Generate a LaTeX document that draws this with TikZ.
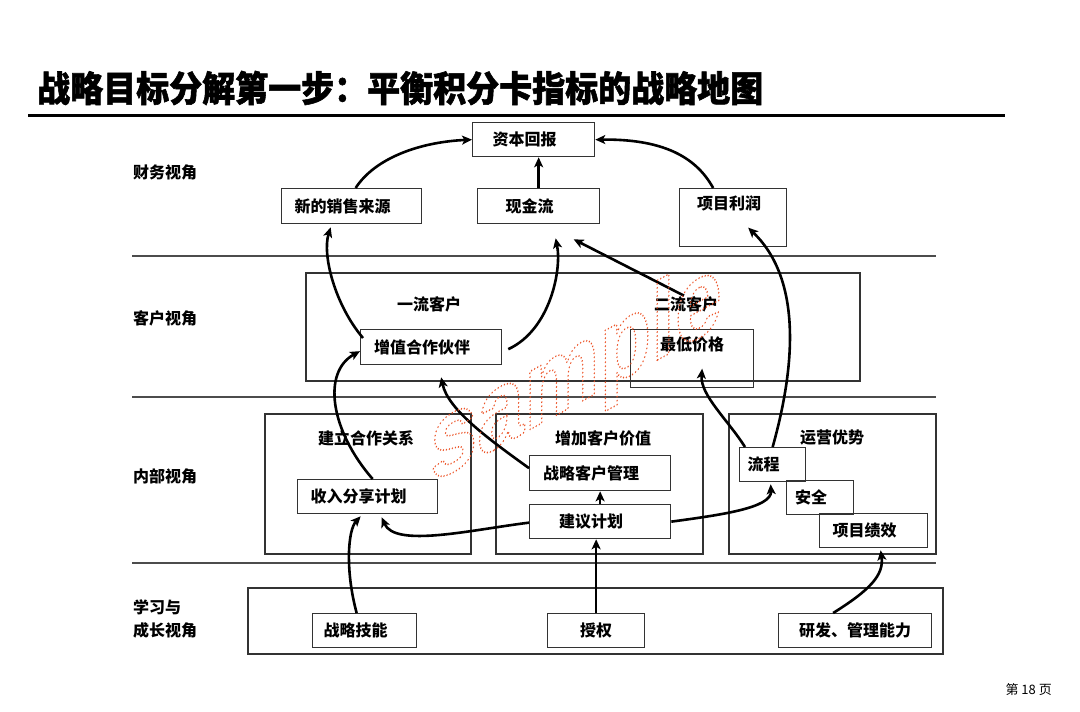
\documentclass[tikz,border=0pt]{standalone}
\usepackage{fontspec}
\setmainfont{Noto Sans CJK SC}
\newfontfamily\titlefont{Noto Sans CJK SC}[BoldFeatures={FakeBold=1.6}]
\newfontfamily\wmfont{Liberation Sans}
\usetikzlibrary{arrows.meta,calc}
\definecolor{wmred}{RGB}{236,84,40}

\begin{document}
\begin{tikzpicture}[x=1pt,y=-1pt,
  bias/.initial=-18pt,
  box/.style={draw=black!80, line width=1.3pt, inner sep=0pt, anchor=north west, font=\bfseries\fontsize{16}{16}\selectfont, execute at begin node={\hspace*{\pgfkeysvalueof{/tikz/bias}}}},
  nobias/.style={bias=0pt},
  head/.style={font=\bfseries\fontsize{16}{16}\selectfont},
  lane/.style={anchor=west, align=left, inner sep=0pt, font=\bfseries\fontsize{16}{23}\selectfont},
  area/.style={draw=black!80, line width=1.3pt},
  sep/.style={draw=black!70, line width=1.1pt},
  link/.style={line width=2.6pt, -{Stealth[length=10pt,width=9pt,inset=2.5pt]}}]
\useasboundingbox (0,0) rectangle (1080,712);

% title
\node[anchor=west, inner sep=0pt, yscale=1.08, font=\titlefont\bfseries\fontsize{33}{33}\selectfont] (title) at (37,88) {战略目标分解第一步：平衡积分卡指标的战略地图};
\draw[line width=3pt] (28,115) -- (1005,115);

% perspectives
\foreach \y in {256,397,563} \draw[sep] (132,\y) -- (936,\y);
\node[lane] (cw) at (133,172) {财务视角};
\node[lane] (kh) at (133,318) {客户视角};
\node[lane] (nb) at (133,476) {内部视角};
\node[lane] (xx) at (133,619) {学习与\\成长视角};

% group frames
\draw[area] (306,273) rectangle (860,381);
\draw[area] (265,414) rectangle (471,554);
\draw[area] (496,414) rectangle (703,554);
\draw[area] (729,414) rectangle (936,554);
\draw[area] (248,588) rectangle (943,654);
\node[head] (ylkh) at (429,304) {一流客户};
\node[head] (elkh) at (686,304) {二流客户};
\node[head] (hzgx) at (366,438) {建立合作关系};
\node[head] (zjjz) at (603,438) {增加客户价值};
\node[head] (yyys) at (832,438) {运营优势};

% financial
\node[box, minimum width=122, minimum height=34] (zbhb) at (472,122) {资本回报};
\node[box, minimum width=140, minimum height=35] (xdxs) at (281,188) {新的销售来源};
\node[box, minimum width=122, minimum height=35] (xjl) at (477,188) {现金流};
\node[box, nobias, minimum width=107, minimum height=58, label={[head, anchor=north, xshift=-4pt, yshift=-4pt]north:项目利润}] (xmlr) at (679,188) {};
% customer
\node[box, minimum width=141, minimum height=35] (zzhb) at (360,329) {增值合作伙伴};
\node[box, nobias, minimum width=123, minimum height=58, label={[head, anchor=north, yshift=-4pt]north:最低价格}] (zdjg) at (630,329) {};
% internal
\node[box, minimum width=140, minimum height=34] (srfx) at (297,479) {收入分享计划};
\node[box, minimum width=141, minimum height=35] (zlkh) at (529,455) {战略客户管理};
\node[box, minimum width=141, minimum height=34] (jyjh) at (529,504) {建议计划};
\node[box, minimum width=66, minimum height=34] (lc) at (739,447) {流程};
\node[box, minimum width=67, minimum height=34] (aq) at (786,480) {安全};
\node[box, minimum width=108, minimum height=34] (xmjx) at (819,513) {项目绩效};
% learning
\node[box, minimum width=104, minimum height=34] (zljn) at (312,613) {战略技能};
\node[box, nobias, minimum width=97, minimum height=34] (sq) at (547,613) {授权};
\node[box, nobias, minimum width=153, minimum height=34] (yfgl) at (778,613) {研发、管理能力};

% links
\draw[link] ([xshift=4pt]xdxs.north) .. controls (375,158) and (420,142) .. (zbhb.west);
\draw[link] (xjl.north) -- (xjl.north |- zbhb.south);
\draw[link] ([xshift=-20pt]xmlr.north) .. controls (695,155) and (660,139) .. (zbhb.east);
\draw[link] ($(zzhb.north west)+(3,9)$) .. controls (335,305) and (322,255) .. ($(xdxs.south)+(-21,3)$);
\draw[link] ($(zzhb.east)+(6,2)$) .. controls (550,330) and (562,270) .. ($(xjl.south)+(17,14)$);
\draw[link] ($(elkh.north)+(-2,3)$) -- ($(xjl.south)+(35,15)$);
\draw[link] (lc.north) .. controls (790,385) and (808,285) .. ($(xmlr.center)+(15,10)$);
\draw[link] ($(lc.north west)+(6,0)$) .. controls (728,420) and (700,395) .. ($(zdjg.center)+(10,10)$);
\draw[link] ($(zlkh.west)+(0,-5)$) .. controls (490,440) and (448,410) .. ($(zzhb.south)+(10,12)$);
\draw[link] ($(srfx.north)+(5,0)$) .. controls (330,430) and (322,372) .. ($(zzhb.west)+(0,4)$);
\draw[link] ($(zljn.north)+(-8,0)$) .. controls (345,570) and (348,530) .. ($(srfx.south)+(-7,2)$);
\draw[link] ($(jyjh.west)+(0,1)$) .. controls (470,530) and (395,548) .. ($(srfx.south)+(14,3)$);
\draw[link] (jyjh.north) -- (zlkh.south);
\draw[link] (sq.north) -- (sq.north |- jyjh.south);
\draw[link] (jyjh.east) .. controls (720,515) and (772,508) .. ($(lc.south)+(-2,2)$);
\draw[link] ($(yfgl.north)+(-22,0)$) .. controls (870,590) and (884,575) .. ($(xmjx.south)+(7,2)$);

% watermark
\node[text=wmred, xscale=0.77, yslant=0.42, font=\wmfont\bfseries\fontsize{110}{110}\selectfont] (wm) at (576,376) {\special{pdf:literal direct 1 Tr 2 w 1 J [0 4] 0 d}sample\special{pdf:literal direct 0 Tr [] 0 d 0 J}};

\node[anchor=east, inner sep=0pt, font=\fontsize{13}{13}\selectfont] (page) at (1052,690) {第 18 页};
\end{tikzpicture}
\end{document}
